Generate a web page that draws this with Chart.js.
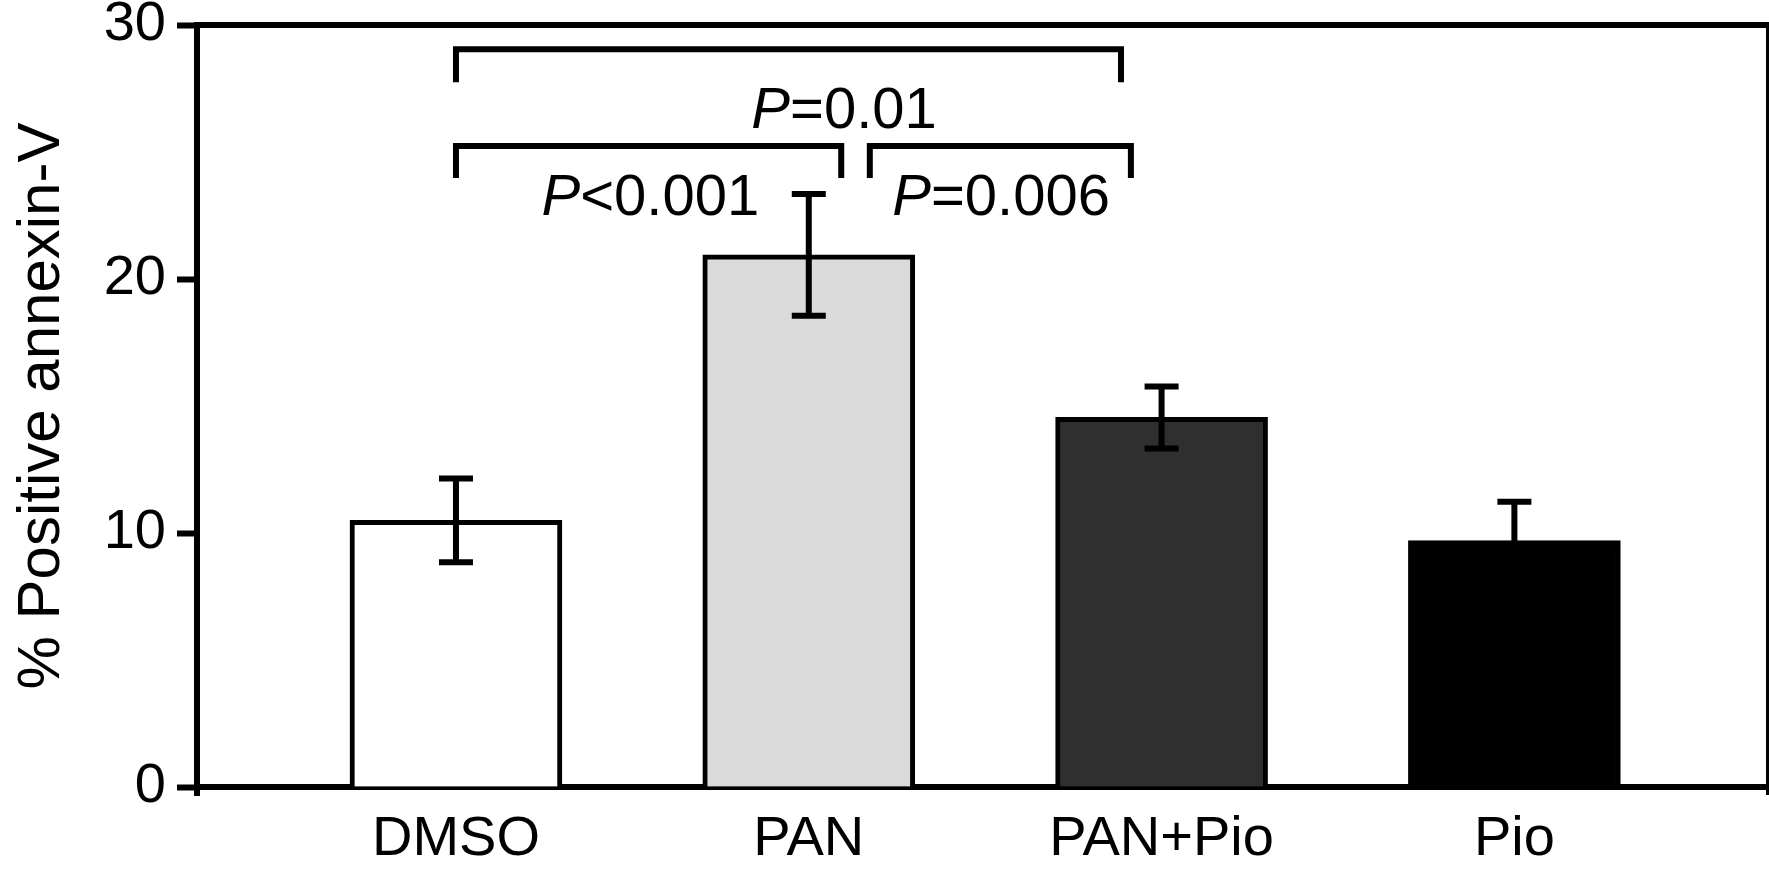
<!DOCTYPE html>
<html>
<head>
<meta charset="utf-8">
<script src="https://cdn.jsdelivr.net/npm/chart.js@4.4.1/dist/chart.umd.min.js"></script>
<style>
  html, body { margin: 0; background: #fff; }
  #wrap { width: 1769px; height: 871px; position: relative; }
</style>
</head>
<body>
<div id="wrap"><canvas id="chart"></canvas></div>
<script>
// Data
const categories = ['DMSO', 'PAN', 'PAN+Pio', 'Pio'];
const means = [10.5, 20.95, 14.55, 9.7];
const sem = [1.65, 2.4, 1.22, 1.53];
const pValues = ['P=0.01', 'P<0.001', 'P=0.006'];

// Bracket layout (x in category units, y in axis units), same order as pValues
const brackets = [
  { x1: 0, x2: 1.885, y: 29.05, leg: 27.75, tx: 1.1, ty: 25.94 },
  { x1: 0, x2: 1.092, y: 25.24, leg: 23.98, tx: 0.551, ty: 22.52 },
  { x1: 1.173, x2: 1.913, y: 25.24, leg: 23.98, tx: 1.545, ty: 22.52 }
];

const FONT = "'Liberation Sans', Arial, sans-serif";
Chart.defaults.font.family = FONT;
Chart.defaults.color = '#000';

const errorBars = {
  id: 'errorBars',
  afterDatasetsDraw(chart) {
    const { ctx, scales: { x, y } } = chart;
    ctx.save();
    ctx.strokeStyle = '#000';
    ctx.lineWidth = 6;
    means.forEach((m, i) => {
      const px = x.getPixelForValue(i);
      const top = y.getPixelForValue(m + sem[i]);
      const bot = y.getPixelForValue(m - sem[i]);
      ctx.beginPath();
      ctx.moveTo(px, top); ctx.lineTo(px, bot);
      ctx.moveTo(px - 17, top); ctx.lineTo(px + 17, top);
      ctx.moveTo(px - 17, bot); ctx.lineTo(px + 17, bot);
      ctx.stroke();
    });
    ctx.restore();
  }
};

// top and right frame lines, plus the little overhang of the y axis
const frame = {
  id: 'frame',
  afterDraw(chart) {
    const { ctx, chartArea: { left, right, bottom }, scales: { y } } = chart;
    const top = y.getPixelForValue(30);
    ctx.save();
    ctx.strokeStyle = '#000';
    ctx.lineWidth = 6;
    ctx.beginPath();
    ctx.moveTo(left, top); ctx.lineTo(chart.width, top);
    ctx.moveTo(left, bottom); ctx.lineTo(left, bottom + 9);
    ctx.stroke();
    ctx.lineWidth = 4;
    ctx.beginPath();
    ctx.moveTo(right + 1, top); ctx.lineTo(right + 1, bottom + 8);
    ctx.stroke();
    ctx.restore();
  }
};

const significance = {
  id: 'significance',
  afterDraw(chart) {
    const { ctx, scales: { x, y } } = chart;
    ctx.save();
    ctx.strokeStyle = '#000';
    ctx.fillStyle = '#000';
    ctx.lineWidth = 6;
    brackets.forEach((b, i) => {
      const x1 = x.getPixelForValue(b.x1);
      const x2 = x.getPixelForValue(b.x2);
      const yy = y.getPixelForValue(b.y);
      const yl = y.getPixelForValue(b.leg);
      ctx.beginPath();
      ctx.moveTo(x1, yl); ctx.lineTo(x1, yy); ctx.lineTo(x2, yy); ctx.lineTo(x2, yl);
      ctx.stroke();

      // italic P, rest upright
      const head = pValues[i].slice(0, 1);
      const rest = pValues[i].slice(1);
      ctx.font = `italic 58px ${FONT}`;
      const w1 = ctx.measureText(head).width;
      ctx.font = `58px ${FONT}`;
      const w2 = ctx.measureText(rest).width;
      const sx = x.getPixelForValue(b.tx) - (w1 + w2) / 2;
      const by = y.getPixelForValue(b.ty);
      ctx.textBaseline = 'alphabetic';
      ctx.textAlign = 'left';
      ctx.font = `italic 58px ${FONT}`;
      ctx.fillText(head, sx, by);
      ctx.font = `58px ${FONT}`;
      ctx.fillText(rest, sx + w1, by);
    });
    ctx.restore();
  }
};

new Chart(document.getElementById('chart'), {
  type: 'bar',
  data: {
    datasets: [{
      data: means.map((v, i) => ({ x: i, y: v })),
      backgroundColor: ['#ffffff', '#dadada', '#2f2f2f', '#000000'],
      borderColor: '#000',
      borderWidth: 5,
      borderSkipped: 'start',
      barThickness: 212
    }]
  },
  options: {
    responsive: true,
    maintainAspectRatio: false,
    devicePixelRatio: 1,
    animation: false,
    layout: { padding: { top: 25, right: 2, left: 0, bottom: 0 } },
    plugins: { legend: { display: false }, tooltip: { enabled: false } },
    scales: {
      x: {
        type: 'linear',
        offset: false,
        min: -0.734,
        max: 3.716,
        afterBuildTicks: (s) => { s.ticks = categories.map((c, i) => ({ value: i })); },
        ticks: {
          callback: (v) => categories[Math.round(v)],
          font: { size: 56 },
          color: '#000',
          padding: 19,
          maxRotation: 0,
          autoSkip: false
        },
        grid: { display: false, drawTicks: false },
        border: { display: true, color: '#000', width: 6 },
        afterFit: (s) => { s.height = 84; s.paddingLeft = 0; s.paddingRight = 0; }
      },
      y: {
        min: 0,
        max: 30,
        ticks: { stepSize: 10, font: { size: 56 }, color: '#000', padding: 11 },
        grid: { drawOnChartArea: false, tickLength: 20, tickWidth: 6, tickColor: '#000' },
        border: { display: true, color: '#000', width: 6 },
        title: {
          display: true,
          text: '% Positive annexin-V',
          font: { size: 60 },
          color: '#000',
          padding: { top: 6, bottom: 0 }
        },
        afterFit: (s) => { s.width = 197; s.paddingTop = 0; s.paddingBottom = 0; }
      }
    }
  },
  plugins: [errorBars, frame, significance]
});
</script>
</body>
</html>
